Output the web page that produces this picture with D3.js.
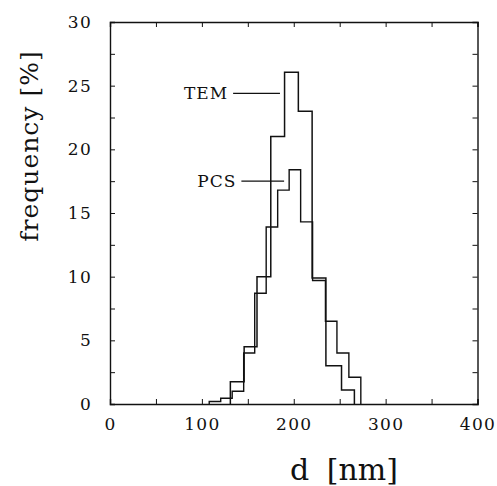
<!DOCTYPE html>
<html>
<head>
<meta charset="utf-8">
<script src="https://cdn.jsdelivr.net/npm/d3@7"></script>
<style>
  body { margin: 0; background: #fff; }
  text { font-family: 'DejaVu Serif', serif; fill: #111; }
</style>
</head>
<body>
<script>
// Data
const pcsEdges = [108, 120.5, 133, 145.5, 157.5, 170, 182.5, 195, 207.5, 220.5, 234.5, 247, 260, 273]
const pcsValues = [0.2, 0.45, 1.0, 4.0, 8.7, 13.9, 16.8, 18.4, 14.3, 9.7, 6.5, 4.0, 2.1]

const temEdges = [131, 146, 160, 175, 190, 205, 220, 235, 252, 266]
const temValues = [1.75, 4.5, 10.0, 21.0, 26.05, 23.0, 9.9, 3.0, 1.1]

const xTicks = [0, 50, 100, 150, 200, 250, 300, 350, 400]
const yTicks = [0, 2.5, 5, 7.5, 10, 12.5, 15, 17.5, 20, 22.5, 25, 27.5, 30]

// leader lines: from x0 to x1 (nm) at height y (%)
const labels = [
  { name: 'TEM', x0: 134, x1: 185, y: 24.4 },
  { name: 'PCS', x0: 143, x1: 189.5, y: 17.5 }
]

// Functions
function initializeSVG (width, height) {
  return d3.select('body')
    .append('svg')
    .attr('width', width)
    .attr('height', height)
}

function stepPoints (edges, values) {
  const points = [[edges[0], 0]]
  values.forEach((v, i) => {
    points.push([edges[i], v])
    points.push([edges[i + 1], v])
  })
  points.push([edges[edges.length - 1], 0])
  return points
}

function drawAxes (svg, x, y) {
  const fmtX = d => (d % 100 === 0 ? d : '')
  const fmtY = d => (d % 5 === 0 ? d : '')

  svg.append('g')
    .attr('transform', `translate(0,${y(0)})`)
    .call(d3.axisBottom(x).tickValues(xTicks).tickSize(-5).tickPadding(14).tickFormat(fmtX))
  svg.append('g')
    .attr('transform', `translate(0,${y(30)})`)
    .call(d3.axisTop(x).tickValues(xTicks).tickSize(-5).tickFormat(''))
  svg.append('g')
    .attr('transform', `translate(${x(0)},0)`)
    .call(d3.axisLeft(y).tickValues(yTicks).tickSize(-5).tickPadding(18).tickFormat(fmtY))
  svg.append('g')
    .attr('transform', `translate(${x(400)},0)`)
    .call(d3.axisRight(y).tickValues(yTicks).tickSize(-5).tickFormat(''))

  svg.selectAll('.domain').attr('stroke', '#111').attr('stroke-width', 1.4)
  svg.selectAll('.tick line').attr('stroke', '#111').attr('stroke-width', 1)
  svg.selectAll('.tick text')
    .style('font-family', "'DejaVu Serif', serif")
    .style('font-size', '17px')
    .style('letter-spacing', '1.3px')
    .attr('fill', '#111')
}

function drawHistograms (svg, x, y) {
  const line = d3.line().x(d => x(d[0])).y(d => y(d[1]))

  svg.append('path')
    .attr('d', line(stepPoints(pcsEdges, pcsValues)))
    .attr('fill', 'none')
    .attr('stroke', '#111')
    .attr('stroke-width', 1.4)

  svg.append('path')
    .attr('d', line(stepPoints(temEdges, temValues)))
    .attr('fill', 'none')
    .attr('stroke', '#111')
    .attr('stroke-width', 1.5)
}

function drawLabels (svg, x, y) {
  labels.forEach(l => {
    const py = y(l.y)
    svg.append('text')
      .attr('x', x(l.x0) - 5)
      .attr('y', py)
      .attr('dy', '0.35em')
      .attr('text-anchor', 'end')
      .style('font-size', '17px')
      .style('letter-spacing', '1px')
      .text(l.name)
    svg.append('line')
      .attr('x1', x(l.x0))
      .attr('x2', x(l.x1))
      .attr('y1', py)
      .attr('y2', py)
      .attr('stroke', '#111')
      .attr('stroke-width', 1.3)
  })
}

// Main
function main () {
  const svg = initializeSVG(497, 486)

  const x = d3.scaleLinear().domain([0, 400]).range([110, 477.5])
  const y = d3.scaleLinear().domain([0, 30]).range([404, 22])

  drawAxes(svg, x, y)
  drawHistograms(svg, x, y)
  drawLabels(svg, x, y)

  svg.append('text')
    .attr('transform', 'translate(38,146) rotate(-90)')
    .attr('text-anchor', 'middle')
    .style('font-size', '25px')
    .style('letter-spacing', '1px')
    .text('frequency [%]')

  svg.append('text')
    .attr('x', 344)
    .attr('y', 480)
    .attr('text-anchor', 'middle')
    .style('font-size', '30px')
    .style('word-spacing', '8px')
    .text('d [nm]')
}

main()
</script>
</body>
</html>
